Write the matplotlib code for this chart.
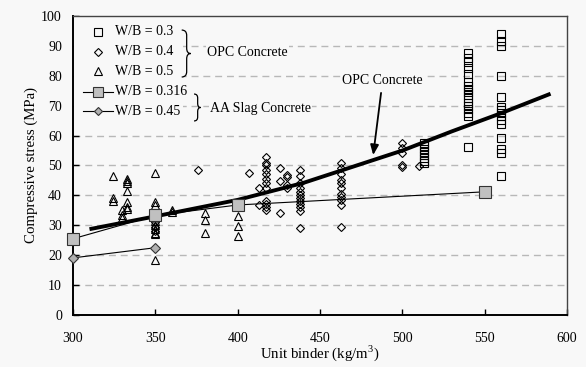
import matplotlib
matplotlib.use("Agg")
import matplotlib.pyplot as plt
from matplotlib.path import Path
from matplotlib.patches import PathPatch, Rectangle

plt.rcParams["font.family"] = ["Liberation Serif", "DejaVu Serif"]
plt.rcParams["mathtext.fontset"] = "custom"
plt.rcParams["mathtext.rm"] = "Liberation Serif"

# ---------------------------------------------------------------------------
# Data
# ---------------------------------------------------------------------------
# OPC concrete, W/B = 0.3 (open squares)
sq_x = [513] * 8 + [540] * 17 + [560] * 15
sq_y = [57.5, 56.5, 55.5, 54.5, 53.5, 52.5, 51.5, 51.0,
        87.5, 86.0, 84.5, 82.5, 80.5, 78.0, 76.5, 75.5, 74.5, 73.5, 72.5,
        71.0, 70.0, 69.0, 67.5, 66.5, 56.3,
        94.0, 91.5, 90.0, 80.0, 72.8, 69.5, 68.5, 67.5, 66.5, 65.2, 63.9,
        59.1, 55.4, 54.3, 46.5]

# OPC concrete, W/B = 0.4 (open diamonds)
dm_x = ([350] * 3 + [376, 407, 413, 413] + [417] * 12 + [426] * 3 + [430] * 4
        + [438] * 12 + [463] * 11 + [500] * 5 + [510])
dm_y = [31.0, 29.5, 28.0,
        48.5, 47.6, 42.4, 36.8,
        53.0, 51.0, 50.0, 48.5, 47.0, 45.5, 44.0, 42.5, 38.0, 37.0, 36.0, 35.0,
        49.0, 44.8, 34.2,
        46.8, 46.0, 43.5, 42.4,
        48.6, 46.5, 44.0, 42.5, 41.0, 40.0, 39.0, 38.0, 37.0, 36.0, 34.8, 29.0,
        50.9, 49.0, 47.0, 45.2, 44.0, 42.5, 40.5, 39.6, 38.5, 36.8, 29.3,
        57.6, 55.7, 54.1, 50.0, 49.5,
        49.8]

# OPC concrete, W/B = 0.5 (open triangles)
tr_x = [324] * 3 + [330] * 3 + [333] * 7 + [350] * 9 + [360] * 2 + [380] * 3 + [400] * 3
tr_y = [46.5, 39.0, 38.0,
        35.0, 33.5, 32.3,
        45.5, 44.7, 44.0, 41.5, 37.9, 36.0, 35.5,
        47.5, 37.8, 36.8, 31.5, 30.0, 28.7, 27.5, 27.0, 18.4,
        35.0, 34.5,
        34.0, 31.8, 27.5,
        33.1, 29.8, 26.4]

# AA slag concrete
aa316_x = [300, 350, 400, 550]
aa316_y = [25.5, 33.3, 36.8, 41.2]
aa45_x = [300, 350]
aa45_y = [19.1, 22.5]

# OPC trend curve
opc_x = [310, 350, 400, 440, 470, 500, 530, 560, 590]
opc_y = [28.7, 33.0, 38.5, 44.2, 49.6, 55.0, 61.4, 67.5, 74.0]

BG = "#f8f8f8"
GRID = "#b8b8b8"

fig = plt.figure(figsize=(5.86, 3.67), dpi=100)
fig.patch.set_facecolor(BG)
ax = fig.add_axes([0.1246, 0.1417, 0.843, 0.8147])
ax.set_facecolor(BG)

ax.set_xlim(300, 600)
ax.set_ylim(0, 100)
ax.set_xticks(range(300, 601, 50))
ax.set_yticks(range(0, 101, 10))
ax.tick_params(direction="in", length=4, width=1, labelsize=10, colors="black")
ax.tick_params(axis="y", pad=8)
ax.tick_params(axis="x", pad=12)
for s in ["left", "bottom"]:
    ax.spines[s].set_linewidth(1.4)
for s in ["top", "right"]:
    ax.spines[s].set_linewidth(1.0)
    ax.spines[s].set_color("#444444")

for yv in range(10, 100, 10):
    ax.plot([300, 600], [yv, yv], color=GRID, lw=1.0, ls=(0, (5, 3.5)), zorder=1.5)

# OPC scatter
ax.plot(sq_x, sq_y, ls="none", marker="s", ms=6, mfc="none", mec="black", mew=0.8, zorder=3)
ax.plot(dm_x, dm_y, ls="none", marker="D", ms=4.2, mfc="none", mec="black", mew=0.8, zorder=3)
ax.plot(tr_x, tr_y, ls="none", marker="^", ms=6, mfc="none", mec="black", mew=0.8, zorder=3)

# OPC trend
ax.plot(opc_x, opc_y, color="black", lw=2.8, solid_capstyle="butt", zorder=4)

# AA slag lines
ax.plot(aa316_x, aa316_y, color="black", lw=0.8, marker="s", ms=8, mfc="#c0c0c0",
        mec="#333333", mew=0.8, zorder=5, clip_on=False)
ax.plot(aa45_x, aa45_y, color="black", lw=0.8, marker="D", ms=5, mfc="#b0b0b0",
        mec="#333333", mew=0.8, zorder=5, clip_on=False)

# ---------------------------------------------------------------------------
# Hand-built legend
# ---------------------------------------------------------------------------
ax.add_patch(Rectangle((300.5, 63), 66, 36.5, facecolor=BG, edgecolor="none", zorder=2))
rows = [94.7, 88.1, 81.5, 74.7, 68.2]
labels = ["W/B = 0.3", "W/B = 0.4", "W/B = 0.5", "W/B = 0.316", "W/B = 0.45"]
mx = 315.4
ax.plot(mx, rows[0], marker="s", ms=6, mfc="none", mec="black", mew=0.8, zorder=6)
ax.plot(mx, rows[1], marker="D", ms=4.2, mfc="none", mec="black", mew=0.8, zorder=6)
ax.plot(mx, rows[2], marker="^", ms=6, mfc="none", mec="black", mew=0.8, zorder=6)
ax.plot([306, 324.5], [rows[3]] * 2, color="black", lw=0.8, zorder=6)
ax.plot(mx, rows[3], marker="s", ms=7, mfc="#c0c0c0", mec="#333333", mew=0.8, zorder=7)
ax.plot([306, 324.5], [rows[4]] * 2, color="black", lw=0.8, zorder=6)
ax.plot(mx, rows[4], marker="D", ms=4.5, mfc="#b0b0b0", mec="#333333", mew=0.8, zorder=7)
for yv, lab in zip(rows, labels):
    ax.text(325.5, yv, lab, ha="left", va="center", fontsize=10, zorder=7)


def brace(x0, y_top, y_bot, w, r):
    xm = x0 + w * 0.55
    ym = (y_top + y_bot) / 2
    verts = [(x0, y_top), (xm, y_top), (xm, y_top - r),
             (xm, ym + r), (xm, ym), (x0 + w, ym),
             (xm, ym), (xm, ym - r),
             (xm, y_bot + r), (xm, y_bot), (x0, y_bot)]
    codes = [Path.MOVETO, Path.CURVE3, Path.CURVE3,
             Path.LINETO, Path.CURVE3, Path.CURVE3,
             Path.CURVE3, Path.CURVE3,
             Path.LINETO, Path.CURVE3, Path.CURVE3]
    ax.add_patch(PathPatch(Path(verts, codes), facecolor="none", edgecolor="black",
                           lw=0.9, zorder=7))


brace(366.0, 95.3, 79.6, 5.5, 1.8)
brace(373.5, 73.9, 64.9, 4.0, 1.3)
box = dict(facecolor=BG, edgecolor="none", pad=1)
ax.text(381.4, 87.7, "OPC Concrete", ha="left", va="center", fontsize=10, bbox=box, zorder=7)
ax.text(383.2, 69.2, "AA Slag Concrete", ha="left", va="center", fontsize=10, bbox=box, zorder=7)

ax.annotate("OPC Concrete", xy=(482.3, 53.5), xytext=(488.0, 78.3),
            ha="center", va="center", fontsize=10, zorder=8,
            bbox=dict(facecolor=BG, edgecolor="none", pad=1),
            arrowprops=dict(arrowstyle="-|>,head_length=0.6,head_width=0.25",
                            color="black", lw=1.3, shrinkA=3, shrinkB=0))

ax.set_xlabel("Unit binder (kg/m$^3$)", fontsize=10.7, labelpad=-1)
ax.set_ylabel("Compressive stress (MPa)", fontsize=10.7, labelpad=2)

fig.savefig("out.png", dpi=100, facecolor=fig.get_facecolor())
